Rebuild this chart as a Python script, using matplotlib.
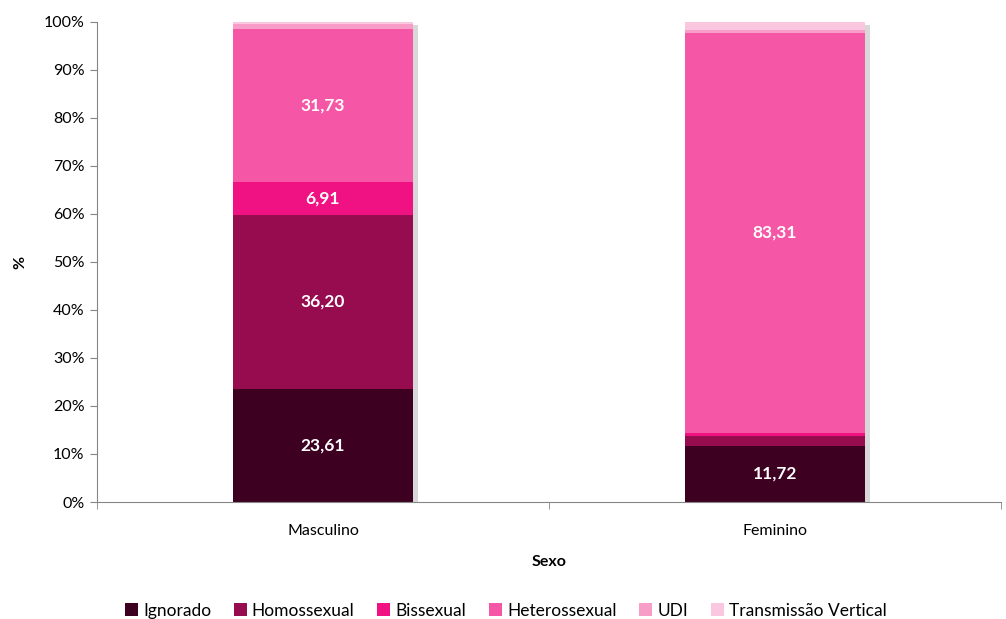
import numpy as np
import matplotlib
matplotlib.use("Agg")
import matplotlib.pyplot as plt
import matplotlib.patheffects as pe

plt.rcParams['font.family'] = ['Lato', 'DejaVu Sans']

# data (percent)
categorias = ['Masculino', 'Feminino']
series = ['Ignorado', 'Homossexual', 'Bissexual', 'Heterossexual', 'UDI', 'Transmissão Vertical']
ignorado = [23.61, 11.72]
homossexual = [36.20, 2.00]
bissexual = [6.91, 0.70]
heterossexual = [31.73, 83.31]
udi = [1.10, 0.60]
transmissao = [0.45, 1.67]
valores = [ignorado, homossexual, bissexual, heterossexual, udi, transmissao]
rotulos = [[True, True], [True, False], [True, False], [True, True], [False, False], [False, False]]
cores = ['#3d0021', '#970c4f', '#f01182', '#f556a6', '#f89cc8', '#fbc6e0']

fig = plt.figure(figsize=(10.06, 6.19), dpi=100)
ax = fig.add_axes([0.0964, 0.189, 0.8986, 0.7756])

x = np.arange(len(categorias))
w = 0.4

# sombra atras das barras
tot = np.sum(valores, axis=0)
ax.bar(x, tot, w, color='white', zorder=1,
       path_effects=[pe.SimplePatchShadow(offset=(3, -2), shadow_rgbFace='#909090', alpha=0.35), pe.Normal()])

base = np.zeros(len(categorias))
for nome, v, c, rot in zip(series, valores, cores, rotulos):
    v = np.array(v)
    ax.bar(x, v, w, bottom=base, color=c, label=nome, zorder=2)
    for i in range(len(x)):
        if rot[i]:
            ax.text(x[i], base[i] + v[i] / 2, ('%.2f' % v[i]).replace('.', ','),
                    ha='center', va='center', color='white', fontsize=12.5, fontweight='bold', zorder=3)
    base += v

ax.set_xlim(-0.5, 1.5)
ax.set_ylim(0, 100)
ax.set_yticks(np.arange(0, 101, 10))
ax.set_yticklabels(['%d%%' % t for t in range(0, 101, 10)], fontsize=11.5)
ax.set_xticks(x)
ax.set_xticklabels(categorias, fontsize=11.5)
ax.set_xticks([-0.5, 0.5, 1.5], minor=True)
ax.tick_params(axis='x', which='major', length=0, pad=16)
ax.tick_params(axis='x', which='minor', length=5, color='#868686')
ax.tick_params(axis='y', length=5, color='#868686', pad=4)

for s in ['top', 'right']:
    ax.spines[s].set_visible(False)
for s in ['left', 'bottom']:
    ax.spines[s].set_color('#868686')

ax.set_xlabel('Sexo', fontsize=11.5, fontweight='bold', labelpad=12)
ax.set_ylabel('%', fontsize=11.5, fontweight='bold', labelpad=12)

ax.legend(loc='upper center', bbox_to_anchor=(0.452, -0.177), ncol=6, frameon=False,
          fontsize=12.5, handlelength=0.75, handleheight=0.75, handletextpad=0.3, columnspacing=1.3)

fig.savefig('out.png', dpi=100)
